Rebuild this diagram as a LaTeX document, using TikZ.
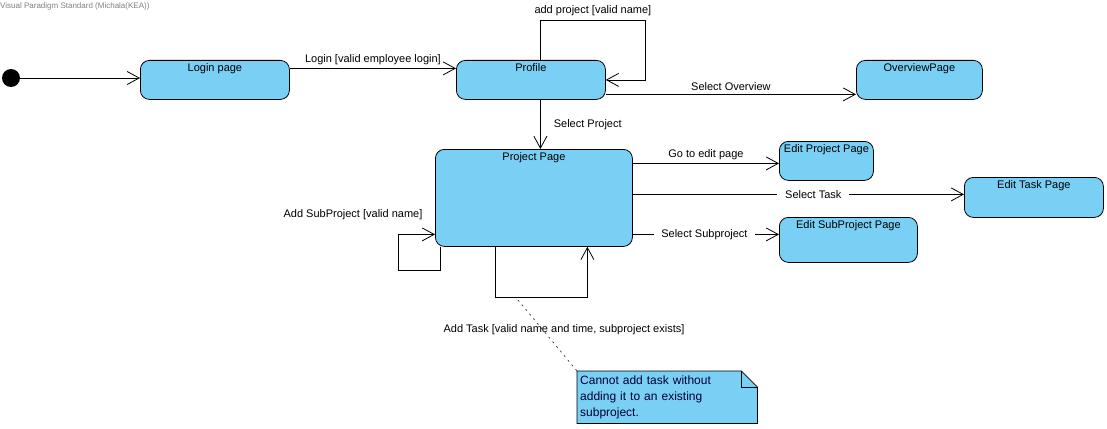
\documentclass[tikz,border=0pt]{standalone}
\usepackage{fontspec}
\setmainfont{Liberation Sans}
\usetikzlibrary{arrows.meta}

\definecolor{stateblue}{RGB}{122,207,245}
\tikzset{
    pagebox/.style={draw, fill=stateblue, rounded corners=9pt, anchor=north west, inner sep=0pt, line width=.8pt},
    pagename/.style={label={[anchor=north, lbl, inner sep=3pt]north:#1}},
    trans/.style={-{Straight Barb[length=12pt,width=13pt]}, line width=.8pt},
    lbl/.style={font=\fontsize{11}{13}\selectfont, inner sep=1pt},
    notebox/.style={fill=stateblue, anchor=north west, minimum width=180pt, minimum height=52pt,
        text width=174pt, align=left, inner sep=3pt, font=\fontsize{12}{16}\selectfont, text=black!80!blue},
}

\begin{document}
\begin{tikzpicture}[x=1pt, y=-1pt]
    \useasboundingbox (0,0) rectangle (1107,428);

    % titre
    \node[anchor=west, inner sep=0pt, text=gray, font=\fontsize{8}{9}\selectfont] (vp) at (0,6) {Visual Paradigm Standard (Michala(KEA))};

    % etats
    \node[fill=black, circle, minimum size=18pt, inner sep=0pt] (init) at (11,78) {};
    \node[pagebox, minimum width=149pt, minimum height=39pt, pagename={Login page}] (login) at (140,60) {};
    \node[pagebox, minimum width=149pt, minimum height=39pt, pagename={Profile}] (profile) at (456,60) {};
    \node[pagebox, minimum width=126pt, minimum height=39pt, pagename={OverviewPage}] (overview) at (856,60) {};
    \node[pagebox, minimum width=197pt, minimum height=97pt, pagename={Project Page}] (project) at (435,149) {};
    \node[pagebox, minimum width=94pt, minimum height=39pt, pagename={Edit Project Page}] (editproject) at (779,141) {};
    \node[pagebox, minimum width=139pt, minimum height=40pt, pagename={Edit Task Page}] (edittask) at (964,177) {};
    \node[pagebox, minimum width=138pt, minimum height=45pt, pagename={Edit SubProject Page}] (editsub) at (779,217) {};

    % transitions
    \draw[trans] (init) -- (init -| login.west);
    \draw[trans] ([yshift=11.5]login.east) -- ([yshift=11.5]profile.west)
        node[lbl, midway, above=2pt] (t-login) {Login [valid employee login]};
    \draw[trans] ([xshift=9.5]profile.north) -- ++(0,-40) -- ++(105,0)
        node[lbl, midway, above=3pt] (t-addproject) {add project [valid name]} |- (profile.east);
    \draw[trans] ([yshift=-14.5]profile.east) -- ([yshift=-14.5]profile.east -| overview.west)
        node[lbl, midway, above=2pt] (t-overview) {Select Overview};
    \draw[trans] ([xshift=9.5]profile.south) -- ([xshift=9.5]profile.south |- project.north)
        node[lbl, midway, right=12pt] (t-project) {Select Project};

    % depuis project page
    \draw[trans] ([yshift=34.5]project.east) -- ([yshift=34.5]project.east -| editproject.west)
        node[lbl, midway, above=2pt] (t-edit) {Go to edit page};
    \draw[trans] ([yshift=3.5]project.east) -- ([yshift=3.5]project.east -| edittask.west)
        node[lbl, pos=.545, fill=white, inner xsep=8pt] (t-task) {Select Task};
    \draw[trans] ([yshift=-36.5]project.east) -- ([yshift=-36.5]project.east -| editsub.west)
        node[lbl, pos=.49, fill=white, inner xsep=7pt] (t-sub) {Select Subproject};

    % boucles
    \draw[trans] ([xshift=5]project.south west) |- ++(-42,24) |- ([yshift=-36.5]project.west);
    \node[lbl] (t-addsub) at (353,215) {Add SubProject [valid name]};
    \draw[trans] ([xshift=-38.5]project.south) -- ++(0,51) -| ([xshift=53.5]project.south);
    \node[lbl] (t-addtask) at (564,330) {Add Task [valid name and time, subproject exists]};
    \coordinate (taskloop) at (518,300);

    % note
    \node[notebox] (note) at (577,371) {Cannot add task without\\adding it to an existing\\subproject.};
    \fill[white] ([xshift=-16]note.north east) -- (note.north east) -- ([yshift=-16]note.north east) -- cycle;
    \draw[line width=.8pt] (note.north west) -- ([xshift=-16]note.north east) -- ([yshift=-16]note.north east)
        -- (note.south east) -- (note.south west) -- cycle;
    \draw[line width=.8pt] ([xshift=-16]note.north east) -- ++(0,16) -- ([yshift=-16]note.north east);
    \draw[dash pattern=on 2pt off 4pt, line width=.7pt, black!80] (taskloop) -- (note.north west);
\end{tikzpicture}
\end{document}
